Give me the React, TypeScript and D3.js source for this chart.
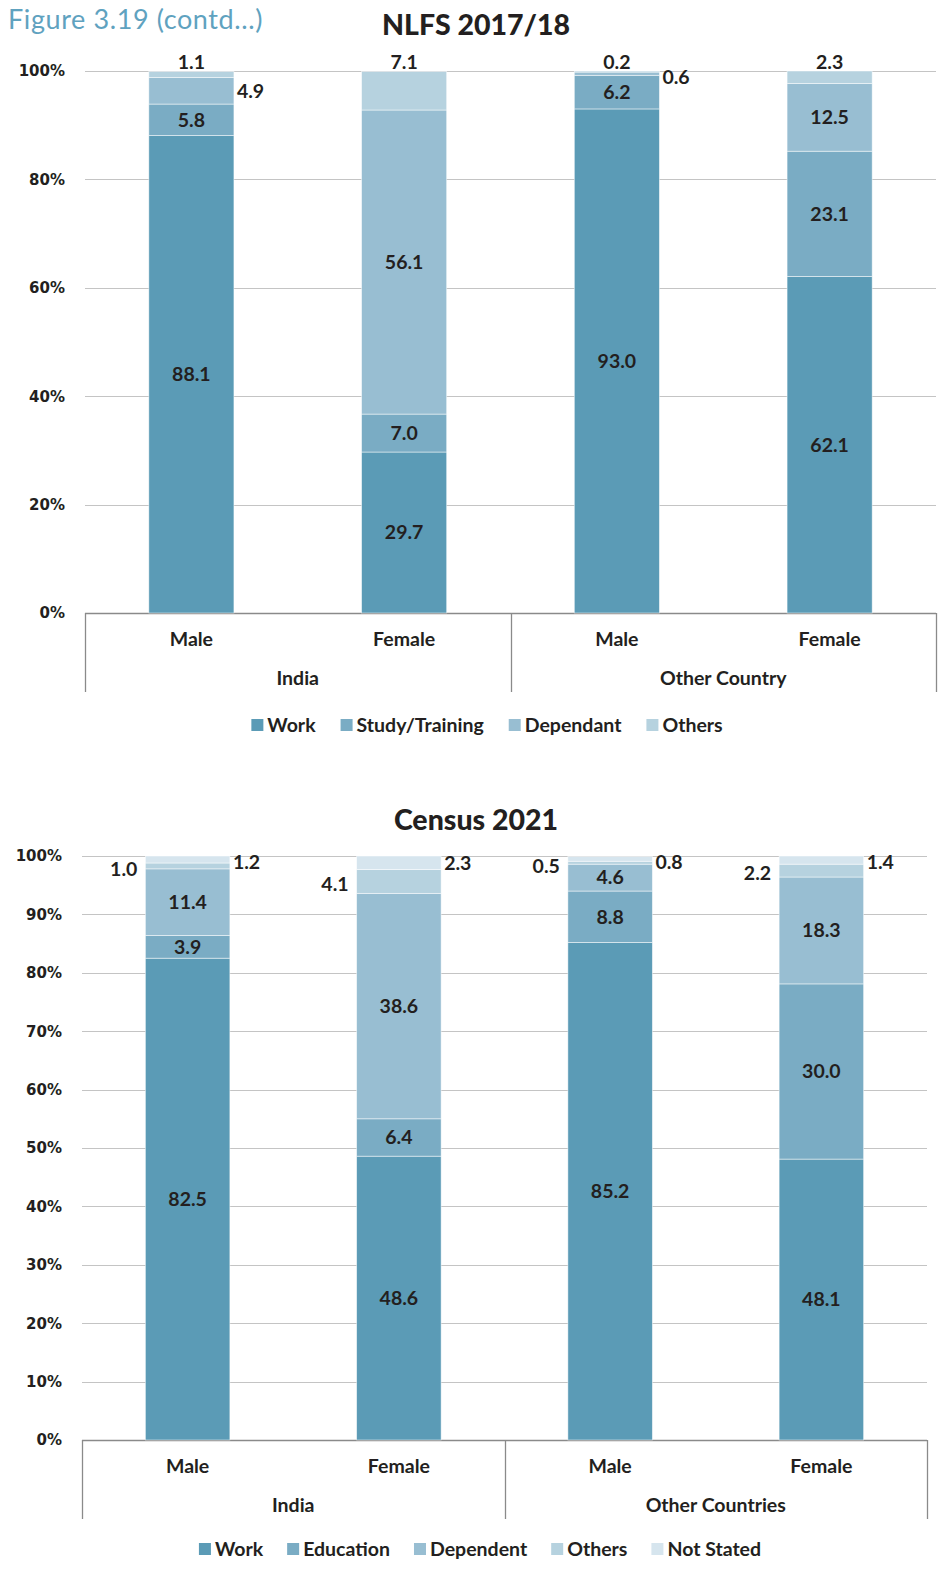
import React, { useEffect, useRef } from "react";
import * as d3 from "d3";

// ---------- NLFS 2017/18 ----------
const nlfsCategories = ["Male", "Female", "Male", "Female"];
const nlfsGroups = ["India", "Other Country"];
const nlfsSeries = ["Work", "Study/Training", "Dependant", "Others"];
const nlfsWork = [88.1, 29.7, 93.0, 62.1];
const nlfsStudy = [5.8, 7.0, 6.2, 23.1];
const nlfsDependant = [4.9, 56.1, 0.6, 12.5];
const nlfsOthers = [1.1, 7.1, 0.2, 2.3];
const nlfsTicks = [0, 20, 40, 60, 80, 100];
const nlfsPlacement = [
  ["in", "in", "in", "in"],
  ["in", "in", "in", "in"],
  ["right", "in", "right", "in"],
  ["above", "above", "above", "above"],
];

// ---------- Census 2021 ----------
const censusCategories = ["Male", "Female", "Male", "Female"];
const censusGroups = ["India", "Other Countries"];
const censusSeries = ["Work", "Education", "Dependent", "Others", "Not Stated"];
const censusWork = [82.5, 48.6, 85.2, 48.1];
const censusEducation = [3.9, 6.4, 8.8, 30.0];
const censusDependent = [11.4, 38.6, 4.6, 18.3];
const censusOthers = [1.0, 4.1, 0.5, 2.2];
const censusNotStated = [1.2, 2.3, 0.8, 1.4];
const censusTicks = [0, 10, 20, 30, 40, 50, 60, 70, 80, 90, 100];
const censusPlacement = [
  ["in", "in", "in", "in"],
  ["in", "in", "in", "in"],
  ["in", "in", "in", "in"],
  ["left", "left", "left", "left"],
  ["right", "right", "right", "right"],
];

const colors = ["#5b9bb6", "#7aacc4", "#98bed2", "#b6d2df", "#d6e5ee"];
const FONT = "Lato, 'Open Sans', sans-serif";
const TICKFONT = "'DejaVu Sans', Verdana, sans-serif";
const TEXT = "#231f20";
const LBL = 19.5;

type ChartSpec = {
  title: string;
  titleY: number;
  categories: string[];
  groups: string[];
  series: string[];
  values: number[][];
  placement: string[][];
  ticks: number[];
  left: number;
  right: number;
  top: number;
  bottom: number;
  legendY: number;
  legendCenter: number;
  legendGap: number;
};

function drawChart(root: d3.Selection<SVGGElement, unknown, null, undefined>, s: ChartSpec) {
  const g = root.append("g");
  const x = d3.scaleBand<number>().domain(d3.range(s.categories.length)).range([s.left, s.right]).paddingInner(0.6).paddingOuter(0.3);
  const y = d3.scaleLinear().domain([0, 100]).range([s.bottom, s.top]);

  // title
  g.append("text")
    .attr("x", 476)
    .attr("y", s.titleY)
    .attr("text-anchor", "middle")
    .attr("font-family", FONT)
    .attr("font-weight", 900)
    .attr("font-size", 28.5)
    .attr("fill", TEXT)
    .text(s.title);

  // gridlines
  g.selectAll("line.grid")
    .data(s.ticks)
    .join("line")
    .attr("x1", s.left)
    .attr("x2", s.right)
    .attr("y1", (d) => Math.round(y(d)) + 0.5)
    .attr("y2", (d) => Math.round(y(d)) + 0.5)
    .attr("stroke", (d) => (d === 0 ? "#8a8a8a" : "#c4c4c4"))
    .attr("stroke-width", (d) => (d === 0 ? 1.3 : 1));

  // y labels
  g.selectAll("text.ytick")
    .data(s.ticks)
    .join("text")
    .attr("x", s.left - 20)
    .attr("y", (d) => y(d))
    .attr("dy", "0.36em")
    .attr("text-anchor", "end")
    .attr("font-family", TICKFONT)
    .attr("font-weight", 700)
    .attr("font-size", 15)
    .attr("fill", TEXT)
    .text((d) => `${d}%`);

  // stacks
  const n = s.categories.length;
  for (let i = 0; i < n; i++) {
    let cum = 0;
    const bx = x(i)!;
    const bw = x.bandwidth();
    s.values.forEach((arr, k) => {
      const v = arr[i];
      const y0 = y(cum);
      const y1 = y(cum + v);
      const mid = y(cum + v / 2);
      cum += v;
      g.append("rect")
        .attr("x", bx)
        .attr("width", bw)
        .attr("y", y1)
        .attr("height", Math.max(0, y0 - y1))
        .attr("fill", colors[k])
        .attr("stroke", "#ffffff")
        .attr("stroke-opacity", 0.6)
        .attr("stroke-width", 0.8);
      const p = s.placement[k][i];
      let tx = bx + bw / 2;
      let ty = mid;
      let anchor = "middle";
      if (p === "above") {
        ty = y(100) - 9;
      } else if (p === "right") {
        tx = bx + bw + 3;
        anchor = "start";
        ty = Math.max(mid, y(100) + 6);
      } else if (p === "left") {
        tx = bx - 8;
        anchor = "end";
        ty = mid + 3;
      }
      g.append("text")
        .attr("x", tx)
        .attr("y", ty)
        .attr("dy", "0.35em")
        .attr("text-anchor", anchor)
        .attr("font-family", FONT)
        .attr("font-weight", 700)
        .attr("font-size", LBL)
        .attr("fill", TEXT)
        .text(v.toFixed(1));
    });
  }

  // category axis
  const groupCount = s.groups.length;
  const perGroup = n / groupCount;
  const groupW = (s.right - s.left) / groupCount;
  const sepBottom = s.bottom + 79;
  for (let gi = 0; gi <= groupCount; gi++) {
    const lx = Math.round(s.left + gi * groupW) + 0.5;
    g.append("line")
      .attr("x1", lx)
      .attr("x2", lx)
      .attr("y1", s.bottom)
      .attr("y2", sepBottom)
      .attr("stroke", "#8a8a8a")
      .attr("stroke-width", 1.3);
  }
  s.categories.forEach((c, i) => {
    g.append("text")
      .attr("x", x(i)! + x.bandwidth() / 2)
      .attr("y", s.bottom + 26)
      .attr("dy", "0.35em")
      .attr("text-anchor", "middle")
      .attr("font-family", FONT)
      .attr("font-weight", 700)
      .attr("font-size", LBL)
      .attr("fill", TEXT)
      .text(c);
  });
  s.groups.forEach((gr, gi) => {
    const first = x(gi * perGroup)!;
    const last = x(gi * perGroup + perGroup - 1)! + x.bandwidth();
    g.append("text")
      .attr("x", (first + last) / 2)
      .attr("y", s.bottom + 65)
      .attr("dy", "0.35em")
      .attr("text-anchor", "middle")
      .attr("font-family", FONT)
      .attr("font-weight", 700)
      .attr("font-size", LBL)
      .attr("fill", TEXT)
      .text(gr);
  });

  // legend
  const lg = g.append("g");
  let cx = 0;
  s.series.forEach((name, k) => {
    const item = lg.append("g").attr("transform", `translate(${cx},0)`);
    item.append("rect").attr("x", 0).attr("y", -6).attr("width", 12).attr("height", 12).attr("fill", colors[k]);
    const t = item
      .append("text")
      .attr("x", 16)
      .attr("y", 0)
      .attr("dy", "0.35em")
      .attr("font-family", FONT)
      .attr("font-weight", 700)
      .attr("font-size", LBL)
      .attr("fill", TEXT)
      .text(name);
    const w = (t.node() as SVGTextElement).getComputedTextLength();
    cx += 16 + w + s.legendGap;
  });
  const totalW = cx - s.legendGap;
  lg.attr("transform", `translate(${s.legendCenter - totalW / 2},${s.legendY})`);
}

export default function App() {
  const ref = useRef<SVGSVGElement>(null);
  useEffect(() => {
    const svg = d3.select(ref.current!);
    svg.selectAll("*").remove();
    const root = svg.append("g") as d3.Selection<SVGGElement, unknown, null, undefined>;

    root
      .append("text")
      .attr("x", 8)
      .attr("y", 29)
      .attr("font-family", FONT)
      .attr("font-weight", 400)
      .attr("font-size", 27)
      .attr("letter-spacing", 0.6)
      .attr("fill", "#5fa2bf")
      .text("Figure 3.19 (contd...)");

    drawChart(root, {
      title: "NLFS 2017/18",
      titleY: 35,
      categories: nlfsCategories,
      groups: nlfsGroups,
      series: nlfsSeries,
      values: [nlfsWork, nlfsStudy, nlfsDependant, nlfsOthers],
      placement: nlfsPlacement,
      ticks: nlfsTicks,
      left: 85,
      right: 936,
      top: 71,
      bottom: 613,
      legendY: 725,
      legendCenter: 487,
      legendGap: 25,
    });

    drawChart(root, {
      title: "Census 2021",
      titleY: 830,
      categories: censusCategories,
      groups: censusGroups,
      series: censusSeries,
      values: [censusWork, censusEducation, censusDependent, censusOthers, censusNotStated],
      placement: censusPlacement,
      ticks: censusTicks,
      left: 82,
      right: 927,
      top: 856,
      bottom: 1440,
      legendY: 1549,
      legendCenter: 480,
      legendGap: 24,
    });
  }, []);
  return (
    <svg
      ref={ref}
      width={952}
      height={1573}
      style={{ position: "absolute", left: 0, top: 0, display: "block", background: "#fff" }}
    />
  );
}
